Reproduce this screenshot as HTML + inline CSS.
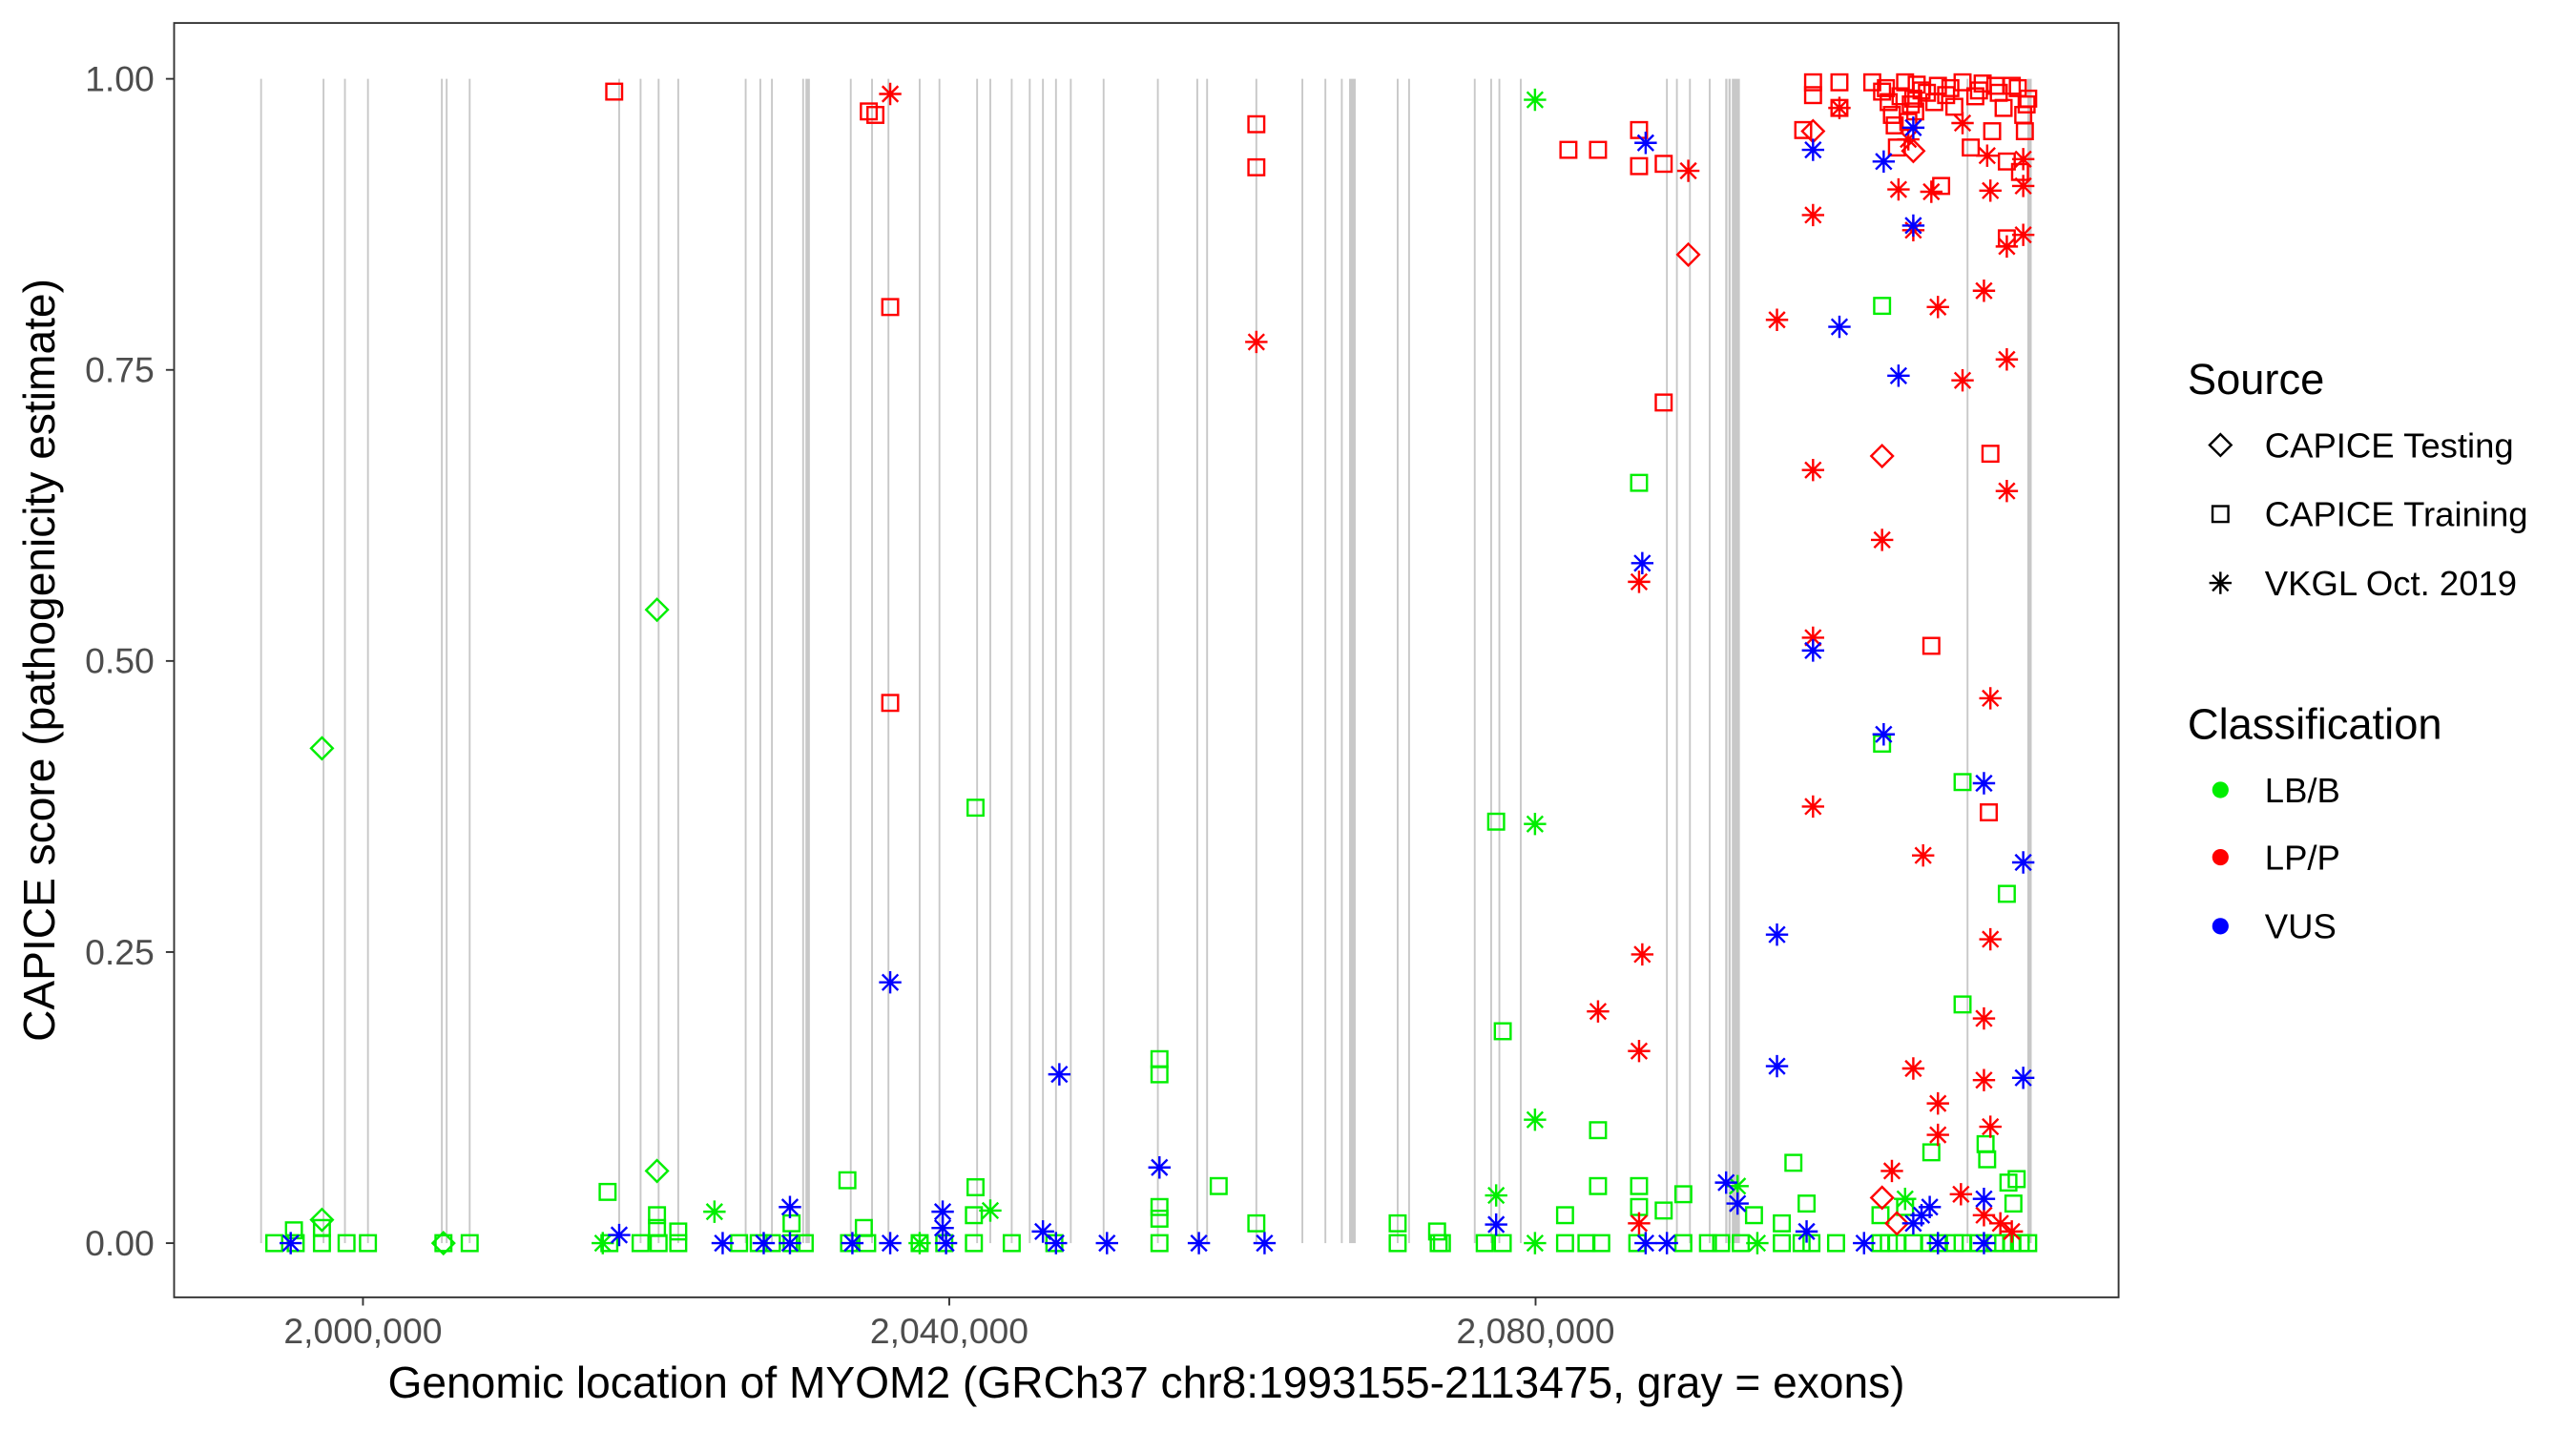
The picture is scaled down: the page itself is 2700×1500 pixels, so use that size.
<!DOCTYPE html>
<html><head><meta charset="utf-8">
<style>
html,body{margin:0;padding:0;background:#fff;}
svg{display:block;font-family:"Liberation Sans",Arial,sans-serif;}
</style></head>
<body>
<svg id="chart" width="2700" height="1500" viewBox="0 0 1568.5 871.4" xmlns="http://www.w3.org/2000/svg">
<rect x="0" y="0" width="1569" height="872" fill="#fff"/>
<g id="exons"></g>
<g id="points"></g>
<rect x="106" y="14" width="1184" height="776" fill="none" stroke="#333" stroke-width="1.1"/>
<g id="axes"></g>
<text x="698" y="851" font-size="26.8" text-anchor="middle" fill="#000">Genomic location of MYOM2 (GRCh37 chr8:1993155-2113475, gray = exons)</text>
<text transform="translate(33,402) rotate(-90)" font-size="26.8" text-anchor="middle" fill="#000">CAPICE score (pathogenicity estimate)</text>
<g id="legend">
<text x="1332" y="240" font-size="26.3">Source</text>
<text x="1332" y="450" font-size="26.3">Classification</text>
</g>
</svg>
<script>
const exonKb=[1993.05,1997.31,1998.77,2000.34,2005.38,2005.71,2007.28,2017.48,2018.94,2020.17,2021.51,2026.11,2027.11,2027.90,2030.03,2030.25,2033.28,2034.73,2035.85,2037.98,2039.33,2041.90,2042.80,2044.26,2045.49,2046.39,2047.28,2048.29,2050.53,2054.23,2056.92,2057.59,2060.95,2064.09,2065.66,2066.78,2067.34,2070.59,2071.37,2075.85,2076.97,2077.53,2078.99,2088.96,2089.64,2090.53,2091.88,2093.00,2093.22,2093.45,2109.47,2113.61];
const exonWidthKb=[0.1,0.1,0.1,0.1,0.1,0.1,0.1,0.1,0.1,0.1,0.1,0.1,0.1,0.1,0.1,0.3,0.1,0.1,0.1,0.1,0.1,0.1,0.1,0.1,0.1,0.1,0.1,0.1,0.1,0.1,0.1,0.1,0.1,0.1,0.1,0.1,0.45,0.1,0.1,0.1,0.1,0.1,0.1,0.1,0.1,0.1,0.1,0.15,0.15,0.55,0.1,0.3];
const xTicks=[2000000,2040000,2080000];
const xTickLabels=["2,000,000","2,040,000","2,080,000"];
const yTicks=[0,0.25,0.5,0.75,1];
const yTickLabels=["0.00","0.25","0.50","0.75","1.00"];
const classes=["LB/B","LP/P","VUS"];
const classColors=["#00ee00","#ff0000","#0000ff"];
const sources=["CAPICE Testing","CAPICE Training","VKGL Oct. 2019"];
const gSqZeroKb=[1993.95,1995.41,1997.20,1998.88,2000.34,2005.49,2007.28,2016.81,2018.94,2020.17,2021.51,2025.66,2027.00,2027.90,2029.24,2030.14,2033.16,2034.40,2037.98,2039.66,2041.68,2044.26,2047.17,2054.34,2070.59,2073.39,2073.61,2076.53,2077.76,2082.01,2083.47,2084.48,2086.94,2090.08,2091.76,2092.66,2094.00,2096.80,2098.15,2098.82,2100.50,2103.53,2104.65,2105.77,2107.45,2109.13,2110.25,2111.37,2112.49,2113.61,2104.1,2106.9,2108.6,2111.9,2113.1];
const gSqKb=[1995.29,1997.20,2016.69,2020.06,2020.06,2021.51,2029.24,2033.05,2034.17,2041.79,2041.68,2041.79,2054.34,2054.34,2054.34,2054.34,2058.38,2060.95,2070.59,2073.28,2077.31,2077.76,2082.01,2084.26,2084.26,2087.06,2087.06,2087.06,2088.74,2090.08,2094.90,2096.80,2097.59,2098.49,2103.64,2103.64,2107.00,2109.13,2109.13,2110.70,2110.81,2112.15,2112.26,2112.82,2112.60,2103.53,2105.21];
const gSqScore=[0.011,0.013,0.044,0.024,0.013,0.010,0.017,0.054,0.013,0.048,0.024,0.374,0.158,0.145,0.031,0.021,0.049,0.017,0.017,0.010,0.362,0.182,0.024,0.097,0.049,0.653,0.049,0.031,0.028,0.042,0.024,0.017,0.069,0.034,0.429,0.805,0.078,0.396,0.205,0.085,0.072,0.300,0.052,0.055,0.034,0.024,0.031];
const gDiKb=[1997.20,1997.20,2020.06,2020.06,2005.49];
const gDiScore=[0.425,0.020,0.544,0.062,0.0];
const gAsKb=[2079.96,2079.96,2079.96,2077.31,2023.98,2042.80,2093.78,2105.21,2095.13,2016.36,2037.98,2079.96];
const gAsScore=[0.982,0.360,0.106,0.041,0.027,0.028,0.049,0.038,0,0,0,0];
const rSqKb=[2017.14,2034.51,2034.96,2035.97,2035.97,2060.95,2060.95,2082.24,2084.26,2087.06,2087.06,2088.74,2088.74,2098.26,2098.93,2098.93,2100.73,2100.73,2103.64,2104.09,2105.21,2106.33,2107.45,2109.13,2110.25,2111.37,2112.49,2113.61,2113.27,2107.00,2111.03,2110.92,2112.15,2112.15,2113.05,2107.67,2104.65,2105.43,2111.15,2109.69,2102.97,2108.57,2104.31,2105.77,2108.01,2111.93,2113.38,2103.9,2104.9,2105.6,2106.0,2106.7,2107.2,2108.3,2110.0,2110.5,2111.6,2112.9,2113.5,2104.5,2105.9];
const rSqScore=[0.989,0.972,0.969,0.804,0.464,0.961,0.924,0.939,0.939,0.956,0.925,0.927,0.722,0.956,0.997,0.986,0.997,0.975,0.989,0.980,0.997,0.990,0.994,0.997,0.990,0.994,0.994,0.983,0.969,0.513,0.678,0.370,0.863,0.929,0.920,0.908,0.941,0.963,0.955,0.941,0.997,0.976,0.969,0.983,0.986,0.975,0.955,0.992,0.985,0.978,0.995,0.988,0.980,0.992,0.985,0.996,0.988,0.992,0.978,0.960,0.972];
const rAsKb=[2035.97,2060.95,2090.42,2087.06,2087.28,2087.06,2084.26,2096.47,2098.93,2098.93,2098.93,2098.93,2100.73,2103.64,2104.31,2104.76,2105.77,2106.44,2105.77,2107.45,2107.45,2107.45,2107.00,2109.13,2109.13,2110.59,2111.03,2111.03,2111.03,2110.59,2110.59,2111.03,2112.15,2112.15,2112.15,2113.27,2113.27,2113.27,2109.02,2110.59,2111.71,2112.49,2087.06,2105.43,2110.81];
const rAsScore=[0.987,0.774,0.921,0.568,0.248,0.165,0.199,0.793,0.883,0.664,0.520,0.375,0.975,0.604,0.062,0.905,0.870,0.333,0.150,0.120,0.093,0.804,0.903,0.741,0.962,0.818,0.904,0.468,0.261,0.193,0.140,0.100,0.759,0.646,0.856,0.866,0.908,0.931,0.042,0.024,0.017,0.010,0.017,0.948,0.934];
const rDiKb=[2090.42,2098.93,2103.64,2103.64,2104.65,2105.77];
const rDiScore=[0.849,0.955,0.676,0.039,0.017,0.938];
const bAsKb=[1995.07,2017.48,2024.54,2027.34,2029.13,2029.13,2033.39,2035.97,2035.97,2039.55,2039.55,2039.78,2046.39,2047.51,2047.28,2050.76,2054.34,2057.03,2061.51,2077.31,2087.51,2087.28,2087.51,2088.96,2093.00,2093.78,2096.47,2096.47,2098.93,2098.93,2100.73,2102.41,2103.75,2103.75,2104.76,2105.77,2105.77,2105.77,2106.33,2106.89,2107.45,2110.59,2113.27,2113.27,2110.59,2110.59,2098.49];
const bAsScore=[0,0.007,0,0,0.031,0,0,0,0.224,0.027,0.013,0,0.010,0.145,0,0,0.065,0,0,0.016,0.945,0.584,0,0,0.052,0.034,0.265,0.152,0.939,0.509,0.787,0,0.929,0.437,0.745,0.874,0.958,0.017,0.024,0.031,0,0.395,0.327,0.142,0.038,0,0.010];

const NS="http://www.w3.org/2000/svg";
function xScale(bp){return 221+(bp-2000000)*0.008925;}
function yScale(s){return 757-s*709;}
function mk(tag,attrs,parent){const e=document.createElementNS(NS,tag);for(const k in attrs)e.setAttribute(k,attrs[k]);parent.appendChild(e);return e;}

const exG=document.getElementById('exons');
exonKb.forEach((k,i)=>{
  const x0=xScale(k*1000), w=Math.max(1.1,xScale((k+exonWidthKb[i])*1000)-x0);
  const r=mk('rect',{x:x0-0.55,y:yScale(1),width:w,height:yScale(0)-yScale(1),fill:'#c8c8c8'},exG);
  
  
});

function drawShape(parent,shape,cx,cy,color){
  let e;
  if(shape===0){
    const r=6.6;
    e=mk('polygon',{points:`${cx},${cy-r} ${cx+r},${cy} ${cx},${cy+r} ${cx-r},${cy}`,fill:'none',stroke:color,'stroke-width':1.4},parent);
  }else if(shape===1){
    const h=4.8;
    e=mk('rect',{x:cx-h,y:cy-h,width:2*h,height:2*h,fill:'none',stroke:color,'stroke-width':1.4},parent);
  }else{
    const r=6.8,d=r*0.7071;
    e=mk('path',{d:`M${cx-r},${cy}H${cx+r}M${cx},${cy-r}V${cy+r}M${cx-d},${cy-d}L${cx+d},${cy+d}M${cx-d},${cy+d}L${cx+d},${cy-d}`,fill:'none',stroke:color,'stroke-width':1.4},parent);
  }
  return e;
}
const ptG=document.getElementById('points');
function series(kbArr,scoreArr,cls,shape,name){
  kbArr.forEach((k,i)=>{
    const s=scoreArr?scoreArr[i]:0;
    const e=drawShape(ptG,shape,xScale(k*1000),yScale(s),classColors[cls]);
    
    
  });
}
series(gSqZeroKb,null,0,1,'point-lbb-training');
series(gSqKb,gSqScore,0,1,'point-lbb-training');
series(gDiKb,gDiScore,0,0,'point-lbb-testing');
series(gAsKb,gAsScore,0,2,'point-lbb-vkgl');
series(rSqKb,rSqScore,1,1,'point-lpp-training');
series(rDiKb,rDiScore,1,0,'point-lpp-testing');
series(rAsKb,rAsScore,1,2,'point-lpp-vkgl');
series(bAsKb,bAsScore,2,2,'point-vus-vkgl');

const ax=document.getElementById('axes');
yTicks.forEach((v,i)=>{
  const y=yScale(v);
  const t=mk('line',{x1:101,x2:106,y1:y,y2:y,stroke:'#333','stroke-width':1.1},ax);
  
  
  const tx=mk('text',{x:94,y:y+7.5,'font-size':21.7,'text-anchor':'end',fill:'#4d4d4d'},ax);
  tx.textContent=yTickLabels[i];
  
  
});
xTicks.forEach((v,i)=>{
  const x=xScale(v);
  const t=mk('line',{x1:x,x2:x,y1:790,y2:795,stroke:'#333','stroke-width':1.1},ax);
  
  
  const tx=mk('text',{x:x,y:818,'font-size':21.7,'text-anchor':'middle',fill:'#4d4d4d'},ax);
  tx.textContent=xTickLabels[i];
  
  
});

const lg=document.getElementById('legend');
const srcY=[271,313,355];
sources.forEach((s,i)=>{
  const e=drawShape(lg,i,1352,srcY[i],'#000');
  
  
  const t=mk('text',{x:1379,y:srcY[i]+7.5,'font-size':21.2,fill:'#000'},lg);
  t.textContent=s;
  
  
});
const clsY=[481,522,564];
classes.forEach((c,i)=>{
  const d=mk('circle',{cx:1352,cy:clsY[i],r:5,fill:classColors[i]},lg);
  
  
  const t=mk('text',{x:1379,y:clsY[i]+7.5,'font-size':21.2,fill:'#000'},lg);
  t.textContent=c;
  
  
});
</script>
</body></html>
